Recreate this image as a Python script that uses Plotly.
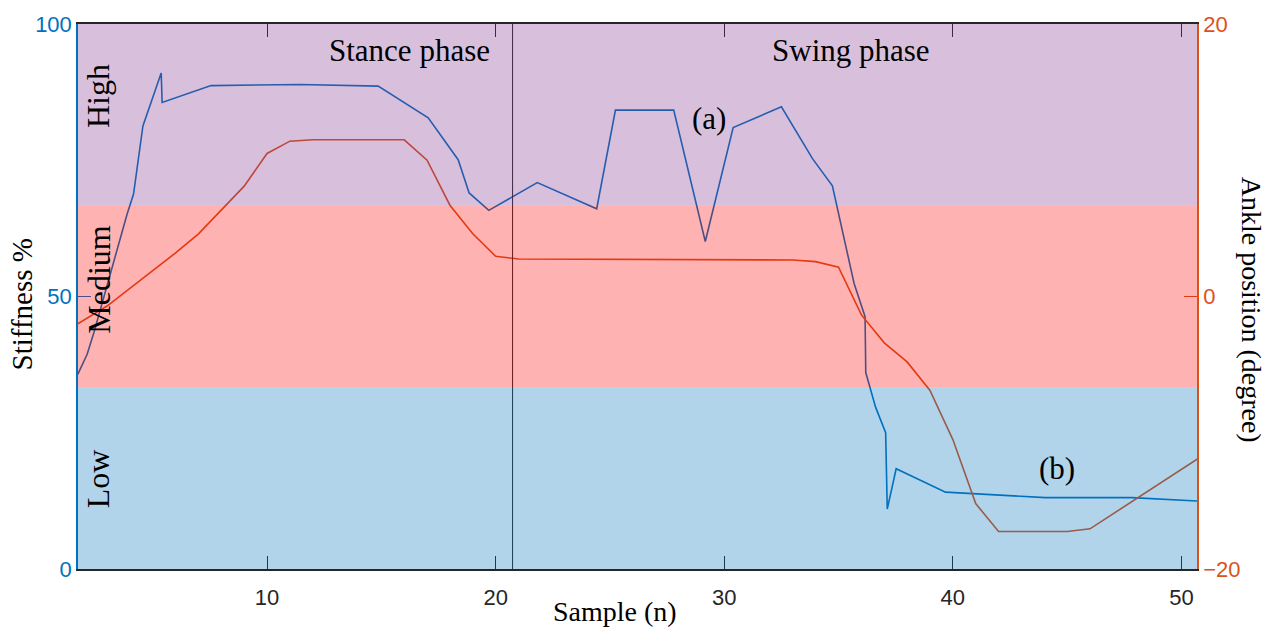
import plotly.graph_objects as go

# Stiffness (%) series - left axis
sample_stiff = [1.72, 2.13, 2.42, 2.78, 3.14, 3.51, 3.87, 4.16, 4.57, 5.37, 5.41, 7.55,
                11.44, 14.86, 17.05, 18.36, 18.84, 19.7, 21.82, 24.42, 25.24, 27.79,
                29.17, 30.39, 32.5, 33.86, 34.73, 35.68, 36.16, 36.19, 36.62, 37.06,
                37.13, 37.52, 39.68, 44.05, 47.83, 51.0]
stiffness = [35.7, 39.4, 43.3, 48.7, 54.2, 59.6, 65.0, 68.8, 81.3, 91.0, 85.6, 88.7,
             88.9, 88.6, 82.8, 75.1, 69.0, 65.8, 70.9, 66.1, 84.2, 84.2,
             60.1, 81.0, 84.8, 75.3, 70.3, 52.4, 46.3, 36.05, 29.7, 25.0,
             11.0, 18.4, 14.1, 13.1, 13.1, 12.4]

# Ankle position (degree) series - right axis
sample_ankle = [1.72, 3, 5, 6, 7, 9, 10, 11, 12, 16, 17, 18, 19, 20, 21, 33, 34, 35, 36,
                37, 38, 39, 40, 41, 42, 45, 46, 47, 48, 50, 51]
ankle = [-2.0, -0.7, 1.9, 3.2, 4.6, 8.1, 10.5, 11.4, 11.5, 11.5, 10.0, 6.7, 4.6, 2.95,
         2.75, 2.68, 2.56, 2.15, -1.35, -3.4, -4.8, -6.9, -10.5, -15.2, -17.25, -17.25,
         -17.05, -15.96, -14.9, -12.7, -11.6]

x_ticks = [10, 20, 30, 40, 50]
y_ticks = [0, 50, 100]
y2_ticks = [-20, 0, 20]
phase_boundary = 20.74
band_edges = [0, 100 / 3, 200 / 3, 100]
band_names = ["Low", "Medium", "High"]
band_colors = ["#0072BD", "#FF0000", "#7E2F8E"]

BLUE = "#0072BD"
ORANGE = "#D95319"
DARK = "#262626"
SERIF = "Liberation Serif"
SANS = "Liberation Sans"

fig = go.Figure()
fig.add_trace(go.Scatter(x=sample_stiff, y=stiffness, mode="lines",
                         line=dict(color=BLUE, width=1.6), yaxis="y", showlegend=False))
fig.add_trace(go.Scatter(x=sample_ankle, y=ankle, mode="lines",
                         line=dict(color=ORANGE, width=1.6), yaxis="y2", showlegend=False))

shapes = [dict(type="line", xref="x", yref="paper", x0=phase_boundary, x1=phase_boundary,
               y0=0, y1=1, line=dict(color=DARK, width=1), layer="above")]
for i in range(3):
    shapes.append(dict(type="rect", xref="paper", yref="y", x0=0, x1=1,
                       y0=band_edges[i], y1=band_edges[i + 1], fillcolor=band_colors[i],
                       opacity=0.3, line=dict(width=0), layer="above"))


def note(text, x, y, size, angle=0):
    return dict(text=text, xref="paper", yref="paper", x=x, y=y, showarrow=False,
                xanchor="center", yanchor="middle", textangle=angle,
                font=dict(family=SERIF, size=size, color="black"))


annotations = []
band_label_y = [0.165, 0.531, 0.868]
for name, yy in zip(band_names, band_label_y):
    annotations.append(note(name, 0.018, yy, 32, -90))
annotations += [
    note("Stance phase", 0.296, 0.951, 31),
    note("Swing phase", 0.691, 0.951, 31),
    note("(a)", 0.564, 0.826, 31),
    note("(b)", 0.875, 0.185, 31),
    note("Sample (n)", 0.48, -0.078, 28),
    note("Stiffness %", -0.05, 0.4855, 29, -90),
    note("Ankle position (degree)", 1.049, 0.476, 28, 90),
]

fig.update_layout(
    width=1273, height=632,
    margin=dict(l=78, r=76, t=17, b=63),
    paper_bgcolor="white", plot_bgcolor="white",
    shapes=shapes, annotations=annotations,
    xaxis=dict(range=[1.73, 50.68], tickvals=x_ticks, ticks="inside", ticklen=13,
               tickcolor=DARK, showline=True, linecolor=DARK, linewidth=1.5, mirror="ticks",
               showgrid=False, zeroline=False, ticklabelstandoff=8,
               tickfont=dict(family=SANS, size=22, color=DARK)),
    yaxis=dict(range=[0, 100], tickvals=y_ticks, ticks="inside", ticklen=13,
               tickcolor=BLUE, showline=True, linecolor=BLUE, linewidth=1.5,
               showgrid=False, zeroline=False,
               tickfont=dict(family=SANS, size=22, color=BLUE)),
    yaxis2=dict(range=[-20, 20], tickvals=y2_ticks, ticks="inside", ticklen=13,
                tickcolor=ORANGE, showline=True, linecolor=ORANGE, linewidth=1.5,
                overlaying="y", side="right", showgrid=False, zeroline=False,
                tickfont=dict(family=SANS, size=22, color=ORANGE)),
)

fig.write_html("out.html")
